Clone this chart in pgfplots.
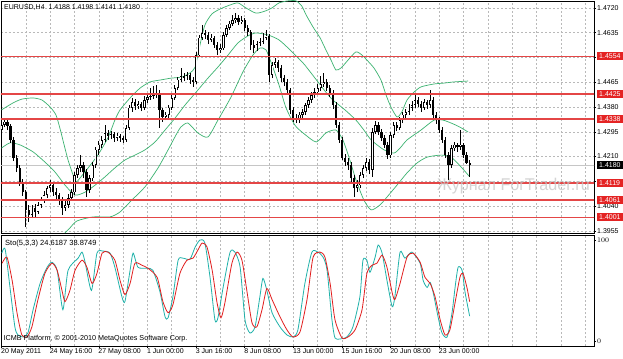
\documentclass[border=0pt]{standalone}
\usepackage{fontspec}
\setmainfont{Liberation Sans}
\usepackage{pgfplots}
\pgfplotsset{compat=1.18}
\usepackage{pgfplotstable}
\definecolor{bandg}{RGB}{60,179,113}
\definecolor{stoc}{RGB}{32,178,170}
\definecolor{stor}{RGB}{225,30,30}
\definecolor{lvl}{RGB}{228,70,70}
\definecolor{labr}{RGB}{228,35,35}
\definecolor{gridc}{RGB}{185,185,185}
\pgfplotstableread{
i o h l c
0 1.4301 1.4335 1.4291 1.4318
1 1.4318 1.4339 1.4311 1.4329
2 1.4329 1.4342 1.4301 1.4315
3 1.4315 1.4322 1.4257 1.4267
4 1.4267 1.4277 1.4195 1.4205
5 1.4205 1.4215 1.4157 1.4171
6 1.4171 1.4181 1.4109 1.4123
7 1.4123 1.4133 1.4075 1.4088
8 1.4088 1.4095 1.3968 1.4027
9 1.4027 1.4044 1.3986 1.4010
10 1.4010 1.4044 1.3999 1.4034
11 1.4034 1.4047 1.3999 1.4020
12 1.4020 1.4054 1.4013 1.4044
13 1.4044 1.4071 1.4034 1.4061
14 1.4061 1.4092 1.4051 1.4078
15 1.4078 1.4109 1.4068 1.4102
16 1.4102 1.4130 1.4088 1.4112
17 1.4112 1.4123 1.4075 1.4088
18 1.4088 1.4102 1.4064 1.4078
19 1.4078 1.4085 1.4044 1.4061
20 1.4061 1.4071 1.4010 1.4034
21 1.4034 1.4061 1.4023 1.4044
22 1.4044 1.4082 1.4034 1.4068
23 1.4068 1.4099 1.4058 1.4088
24 1.4088 1.4157 1.4078 1.4147
25 1.4147 1.4181 1.4136 1.4171
26 1.4171 1.4215 1.4157 1.4181
27 1.4181 1.4191 1.4136 1.4157
28 1.4157 1.4167 1.4071 1.4095
29 1.4095 1.4147 1.4085 1.4136
30 1.4136 1.4191 1.4126 1.4181
31 1.4181 1.4243 1.4171 1.4233
32 1.4233 1.4263 1.4215 1.4250
33 1.4250 1.4281 1.4239 1.4267
34 1.4267 1.4318 1.4260 1.4291
35 1.4291 1.4301 1.4267 1.4281
36 1.4281 1.4298 1.4270 1.4287
37 1.4287 1.4294 1.4260 1.4274
38 1.4274 1.4291 1.4263 1.4281
39 1.4281 1.4287 1.4260 1.4274
40 1.4274 1.4281 1.4257 1.4267
41 1.4267 1.4318 1.4260 1.4308
42 1.4308 1.4387 1.4301 1.4377
43 1.4377 1.4411 1.4363 1.4397
44 1.4397 1.4407 1.4370 1.4383
45 1.4383 1.4401 1.4373 1.4390
46 1.4390 1.4397 1.4366 1.4377
47 1.4377 1.4418 1.4370 1.4404
48 1.4404 1.4428 1.4394 1.4414
49 1.4414 1.4445 1.4404 1.4418
50 1.4418 1.4452 1.4407 1.4421
51 1.4421 1.4455 1.4411 1.4428
52 1.4428 1.4438 1.4308 1.4370
53 1.4370 1.4377 1.4329 1.4346
54 1.4346 1.4363 1.4335 1.4353
55 1.4353 1.4387 1.4342 1.4377
56 1.4377 1.4421 1.4370 1.4411
57 1.4411 1.4455 1.4404 1.4445
58 1.4445 1.4483 1.4438 1.4473
59 1.4473 1.4514 1.4466 1.4486
60 1.4486 1.4497 1.4469 1.4479
61 1.4479 1.4500 1.4473 1.4490
62 1.4490 1.4497 1.4459 1.4473
63 1.4473 1.4483 1.4449 1.4466
64 1.4466 1.4569 1.4459 1.4558
65 1.4558 1.4627 1.4551 1.4617
66 1.4617 1.4661 1.4610 1.4634
67 1.4634 1.4644 1.4613 1.4627
68 1.4627 1.4637 1.4596 1.4610
69 1.4610 1.4630 1.4603 1.4617
70 1.4617 1.4624 1.4582 1.4593
71 1.4593 1.4603 1.4558 1.4576
72 1.4576 1.4596 1.4565 1.4582
73 1.4582 1.4637 1.4576 1.4627
74 1.4627 1.4661 1.4620 1.4651
75 1.4651 1.4675 1.4644 1.4665
76 1.4665 1.4696 1.4658 1.4678
77 1.4678 1.4702 1.4668 1.4685
78 1.4685 1.4696 1.4661 1.4672
79 1.4672 1.4692 1.4665 1.4678
80 1.4678 1.4685 1.4641 1.4651
81 1.4651 1.4661 1.4624 1.4637
82 1.4637 1.4644 1.4576 1.4593
83 1.4593 1.4610 1.4565 1.4582
84 1.4582 1.4606 1.4572 1.4596
85 1.4596 1.4617 1.4589 1.4603
86 1.4603 1.4634 1.4596 1.4617
87 1.4617 1.4644 1.4610 1.4624
88 1.4624 1.4630 1.4466 1.4490
89 1.4490 1.4534 1.4479 1.4524
90 1.4524 1.4548 1.4514 1.4534
91 1.4534 1.4541 1.4500 1.4514
92 1.4514 1.4524 1.4466 1.4479
93 1.4479 1.4490 1.4452 1.4466
94 1.4466 1.4476 1.4428 1.4438
95 1.4438 1.4445 1.4356 1.4370
96 1.4370 1.4380 1.4329 1.4342
97 1.4342 1.4356 1.4325 1.4335
98 1.4335 1.4363 1.4325 1.4353
99 1.4353 1.4373 1.4342 1.4363
100 1.4363 1.4394 1.4353 1.4387
101 1.4387 1.4414 1.4377 1.4404
102 1.4404 1.4431 1.4394 1.4421
103 1.4421 1.4445 1.4411 1.4431
104 1.4431 1.4459 1.4421 1.4445
105 1.4445 1.4486 1.4435 1.4459
106 1.4459 1.4497 1.4449 1.4466
107 1.4466 1.4476 1.4435 1.4445
108 1.4445 1.4455 1.4414 1.4428
109 1.4428 1.4438 1.4373 1.4387
110 1.4387 1.4397 1.4308 1.4318
111 1.4318 1.4329 1.4257 1.4267
112 1.4267 1.4277 1.4198 1.4205
113 1.4205 1.4219 1.4178 1.4191
114 1.4191 1.4205 1.4164 1.4181
115 1.4181 1.4191 1.4123 1.4136
116 1.4136 1.4147 1.4071 1.4102
117 1.4102 1.4130 1.4088 1.4112
118 1.4112 1.4157 1.4102 1.4147
119 1.4147 1.4181 1.4136 1.4171
120 1.4171 1.4205 1.4160 1.4191
121 1.4191 1.4202 1.4150 1.4164
122 1.4164 1.4308 1.4140 1.4294
123 1.4294 1.4332 1.4287 1.4318
124 1.4318 1.4329 1.4284 1.4294
125 1.4294 1.4305 1.4263 1.4274
126 1.4274 1.4284 1.4239 1.4250
127 1.4250 1.4260 1.4202 1.4215
128 1.4215 1.4294 1.4205 1.4284
129 1.4284 1.4329 1.4274 1.4318
130 1.4318 1.4329 1.4298 1.4308
131 1.4308 1.4346 1.4301 1.4335
132 1.4335 1.4363 1.4325 1.4353
133 1.4353 1.4373 1.4342 1.4363
134 1.4363 1.4390 1.4353 1.4377
135 1.4377 1.4401 1.4366 1.4387
136 1.4387 1.4428 1.4377 1.4404
137 1.4404 1.4414 1.4380 1.4390
138 1.4390 1.4401 1.4363 1.4377
139 1.4377 1.4407 1.4370 1.4397
140 1.4397 1.4404 1.4373 1.4387
141 1.4387 1.4438 1.4377 1.4404
142 1.4404 1.4414 1.4342 1.4353
143 1.4353 1.4363 1.4322 1.4335
144 1.4335 1.4346 1.4291 1.4301
145 1.4301 1.4311 1.4257 1.4267
146 1.4267 1.4277 1.4205 1.4215
147 1.4215 1.4226 1.4130 1.4181
148 1.4181 1.4250 1.4171 1.4239
149 1.4239 1.4260 1.4229 1.4250
150 1.4250 1.4257 1.4226 1.4243
151 1.4243 1.4301 1.4233 1.4250
152 1.4250 1.4257 1.4205 1.4215
153 1.4215 1.4226 1.4184 1.4188
154 1.4188 1.4198 1.4141 1.4180
}\candles
\begin{document}
\begin{tikzpicture}
\useasboundingbox (0,0) rectangle (623bp,359bp);
\fill[white] (0,0) rectangle (623bp,359bp);
\begin{axis}[
  at={(1bp,358bp)}, anchor=north west, scale only axis,
  width=593bp, height=232bp,
  xmin=-0.16, xmax=194.9, ymin=1.39478, ymax=1.47436,
  axis line style={black, line width=0.6bp},
  xtick={0,8,...,192}, xticklabels={}, xtick style={draw=none},
  ytick={1.3955,1.4040,1.4125,1.4210,1.4295,1.4380,1.4465,1.4550,1.4635,1.4720},
  yticklabels={1.3955,1.4040,{},1.4210,1.4295,1.4380,1.4465,{},1.4635,1.4720},
  ytick pos=right, yticklabel pos=right, tick align=outside,
  major tick length=2bp, ytick style={black, line width=0.5bp},
  yticklabel style={font=\fontsize{7bp}{8bp}\selectfont, anchor=west, inner sep=0pt, xshift=1bp},
  grid=major, major grid style={gridc, line width=0.5bp, dash pattern=on 2bp off 2bp},
]
% bid line
\addplot[forget plot, color=gray!45, line width=0.8bp] coordinates {(-1,1.4180) (196,1.4180)};
% bollinger bands
\addplot[forget plot, bandg, line width=0.7bp, smooth, tension=0.4] coordinates {
(0,1.4370)(3.8,1.4394)(6.7,1.4407)(10.4,1.4411)(13.3,1.4404)(16.0,1.4380)(17.9,1.4353)(19.2,1.4308)
(20.6,1.4250)(21.9,1.4198)(23.2,1.4157)(24.5,1.4123)(25.8,1.4136)(28.5,1.4171)(31.7,1.4215)(35.0,1.4274)
(37.3,1.4335)(39.0,1.4370)(42.3,1.4411)(45.6,1.4445)(48.9,1.4466)(52.5,1.4473)(55.8,1.4479)(59.4,1.4483)
(62.0,1.4497)(63.7,1.4517)(65.3,1.4593)(66.9,1.4661)(69.2,1.4699)(71.9,1.4716)(75.2,1.4730)(77.8,1.4737)
(80.4,1.4720)(83.7,1.4702)(86.7,1.4709)(89.0,1.4720)(91.3,1.4737)(94.2,1.4744)(96.9,1.4744)(98.8,1.4726)
(100.2,1.4696)(102.5,1.4654)(104.8,1.4617)(106.7,1.4576)(108.4,1.4541)(110.0,1.4507)(111.7,1.4514)(114.0,1.4541)
(116.6,1.4569)(118.6,1.4558)(120.2,1.4541)(122.5,1.4514)(124.8,1.4473)(126.5,1.4421)(128.1,1.4380)(130.1,1.4346)
(131.7,1.4363)(133.4,1.4404)(135.7,1.4431)(138.0,1.4449)(142.3,1.4459)(145.6,1.4462)(148.8,1.4466)(153.5,1.4469)};
\addplot[forget plot, bandg, line width=0.7bp, smooth, tension=0.4] coordinates {
(0,1.4239)(2.8,1.4257)(6.1,1.4250)(10.4,1.4226)(14.3,1.4191)(17.6,1.4157)(20.9,1.4112)(24.2,1.4078)
(27.5,1.4088)(30.8,1.4112)(34.0,1.4140)(37.3,1.4171)(40.6,1.4198)(43.9,1.4215)(47.2,1.4233)(50.5,1.4260)
(53.8,1.4301)(57.1,1.4342)(60.4,1.4387)(64.6,1.4438)(67.9,1.4479)(71.2,1.4517)(74.5,1.4558)(77.8,1.4600)
(81.1,1.4624)(83.7,1.4634)(87.7,1.4627)(91.3,1.4610)(94.9,1.4576)(99.2,1.4531)(101.8,1.4497)(104.4,1.4462)
(106.7,1.4431)(109.0,1.4404)(113.0,1.4370)(116.6,1.4335)(119.2,1.4301)(121.6,1.4267)(125.8,1.4233)(129.1,1.4222)
(131.1,1.4239)(133.4,1.4267)(138.0,1.4301)(142.3,1.4335)(145.2,1.4335)(147.9,1.4325)(150.8,1.4311)(153.5,1.4294)};
\addplot[forget plot, bandg, line width=0.7bp, smooth, tension=0.4] coordinates {
(19.9,1.3924)(20.9,1.3948)(22.5,1.3965)(24.8,1.3989)(30.1,1.4003)(35.7,1.4003)(39.0,1.4020)(42.9,1.4061)
(47.2,1.4106)(51.5,1.4171)(54.8,1.4233)(57.4,1.4284)(59.0,1.4311)(61.3,1.4325)(64.6,1.4291)(67.9,1.4277)
(71.2,1.4335)(75.5,1.4414)(79.4,1.4500)(82.7,1.4558)(85.0,1.4582)(87.0,1.4576)(89.0,1.4524)(91.3,1.4455)
(93.6,1.4377)(96.5,1.4318)(99.2,1.4291)(103.5,1.4260)(106.7,1.4291)(110.0,1.4301)(112.3,1.4267)(114.6,1.4198)
(116.6,1.4130)(119.2,1.4061)(121.6,1.4027)(124.5,1.4044)(126.8,1.4071)(130.1,1.4112)(133.4,1.4154)(136.7,1.4188)
(140.0,1.4208)(144.6,1.4215)(147.9,1.4208)(151.2,1.4174)(153.8,1.4143)};
% wicks
\addplot[forget plot, draw=none, mark=none, error bars/.cd, y dir=plus, y explicit, error mark=none,
  error bar style={draw=black, line width=0.7bp}]
  table[x=i, y=l, y error plus expr=\thisrow{h}-\thisrow{l}] {\candles};
% bodies
\addplot[forget plot, draw=none, mark=none, error bars/.cd, y dir=plus, y explicit, error mark=none,
  error bar style={draw=black, line width=2.3bp}]
  table[x=i, y expr={min(\thisrow{o},\thisrow{c})}, y error plus expr={max(abs(\thisrow{c}-\thisrow{o}),0.00007)}] {\candles};
% bull interiors
\addplot[forget plot, draw=none, mark=none, error bars/.cd, y dir=plus, y explicit, error mark=none,
  error bar style={draw=white, line width=1.1bp}]
  table[x=i, y expr={\thisrow{o}+0.0002}, y error plus expr={ifthenelse(\thisrow{c}>\thisrow{o}+0.0005, \thisrow{c}-\thisrow{o}-0.0004, 0)}] {\candles};
% levels
\addplot[forget plot, lvl, line width=1.5bp] coordinates {(-1,1.4554) (196,1.4554)};
\addplot[forget plot, lvl, line width=1.5bp] coordinates {(-1,1.4425) (196,1.4425)};
\addplot[forget plot, lvl, line width=1.5bp] coordinates {(-1,1.4338) (196,1.4338)};
\addplot[forget plot, lvl, line width=1.5bp] coordinates {(-1,1.4119) (196,1.4119)};
\addplot[forget plot, lvl, line width=1.5bp] coordinates {(-1,1.4061) (196,1.4061)};
\addplot[forget plot, lvl, line width=1.5bp] coordinates {(-1,1.4001) (196,1.4001)};
\coordinate (L1) at (axis cs:194.9,1.4554);
\coordinate (L2) at (axis cs:194.9,1.4425);
\coordinate (L3) at (axis cs:194.9,1.4338);
\coordinate (L4) at (axis cs:194.9,1.4119);
\coordinate (L5) at (axis cs:194.9,1.4061);
\coordinate (L6) at (axis cs:194.9,1.4001);
\coordinate (LB) at (axis cs:194.9,1.4180);
\end{axis}
\begin{axis}[
  at={(1bp,124bp)}, anchor=north west, scale only axis,
  width=593bp, height=111bp,
  xmin=-0.16, xmax=194.9, ymin=-4.95, ymax=104.95,
  axis line style={black, line width=0.6bp},
  xtick={0,16,...,144},
  xticklabels={20 May 2011,24 May 16:00,27 May 08:00,1 Jun 00:00,3 Jun 16:00,8 Jun 08:00,13 Jun 00:00,15 Jun 16:00,20 Jun 08:00,23 Jun 00:00},
  minor xtick={8,24,40,56,72,88,104,120,136,152,160,168,176,184,192},
  xtick pos=bottom, ytick pos=right, yticklabel pos=right, tick align=outside,
  major tick length=2bp, minor tick length=0pt,
  tick style={black, line width=0.5bp},
  xticklabel style={font=\fontsize{7bp}{8bp}\selectfont, anchor=north west, inner sep=0pt, xshift=-0.5bp, yshift=-0.5bp},
  ytick={0,100},
  yticklabel style={font=\fontsize{7bp}{8bp}\selectfont, anchor=west, inner sep=0pt, xshift=1bp},
  xmajorgrids, xminorgrids,
  major grid style={gridc, line width=0.5bp, dash pattern=on 2bp off 2bp},
  minor grid style={gridc, line width=0.5bp, dash pattern=on 2bp off 2bp},
]
\addplot[forget plot, stoc, line width=0.8bp, smooth, tension=0.4] coordinates {
(0.1,87)(1.2,91)(2.8,53)(4.4,14)(5.4,6)(7.1,4)(8.7,8)(10.4,31)(12.7,57)(15.0,73)(16.6,78)(18.3,70)
(20.2,31)(21.9,70)(25.2,82)(26.5,88)(27.5,78)(29.6,50)(31.4,87)(33.4,89)(35.7,87)(37.3,73)(39.6,44)
(40.6,39)(42.3,70)(43.3,87)(44.9,73)(47.9,72)(49.8,70)(52.1,49)(53.8,24)(54.8,23)(56.4,44)(58.1,80)
(59.7,82)(62.0,81)(63.7,93)(65.3,100)(66.9,97)(68.6,63)(70.2,21)(71.2,23)(72.9,53)(75.2,88)(76.8,88)
(78.5,73)(80.1,21)(81.7,8)(83.4,14)(85.0,44)(86.0,62)(87.3,50)(89.0,28)(91.6,14)(93.9,6)(95.9,4)
(97.5,11)(99.8,57)(102.1,88)(104.1,88)(105.8,83)(107.1,70)(108.7,21)(109.7,3)(111.3,2)(113.6,4)
(115.6,14)(117.9,44)(118.9,80)(120.2,80)(121.2,68)(122.9,83)(123.9,95)(125.2,87)(126.8,60)(128.5,34)
(129.4,44)(131.1,88)(132.7,82)(135.0,88)(137.7,77)(138.7,60)(140.0,53)(141.0,58)(142.0,48)(143.6,24)
(144.9,8)(146.6,4)(148.2,28)(149.2,53)(150.2,73)(151.5,70)(152.5,48)(154,24.6)};
\addplot[forget plot, stor, line width=0.8bp, smooth, tension=0.4] coordinates {
(0.2,77)(1.8,83)(3.5,60)(5.1,28)(6.7,6)(8.4,4)(10.0,14)(12.0,41)(14.3,67)(16.6,77)(18.3,70)(19.9,50)
(20.9,39)(22.5,50)(24.2,70)(26.5,80)(28.1,73)(29.8,57)(31.4,67)(33.1,87)(35.0,88)(37.3,80)(39.0,60)
(40.6,46)(42.3,57)(43.9,77)(46.2,75)(48.2,72)(51.2,63)(53.1,39)(54.8,28)(56.4,36)(58.7,67)(61.0,80)
(63.0,82)(64.6,90)(66.0,97)(67.6,93)(69.3,70)(70.9,38)(72.2,23)(73.5,38)(75.8,77)(77.5,88)(79.1,80)
(80.8,48)(82.4,18)(84.0,14)(85.7,31)(87.3,52)(89.0,41)(91.6,24)(93.9,11)(95.9,4)(98.2,9)(100.5,41)
(102.5,83)(104.8,88)(106.4,83)(108.1,57)(109.7,21)(112.0,3)(114.0,4)(116.3,11)(118.6,31)(120.2,67)
(121.9,75)(123.5,77)(125.2,85)(126.8,73)(128.5,48)(129.4,41)(131.1,57)(133.4,83)(135.4,87)(137.7,78)
(139.3,63)(141.0,57)(142.6,44)(144.3,21)(145.9,6)(147.5,11)(149.2,38)(150.8,63)(151.8,67)(153.1,53)(154,38.9)};
\end{axis}
% price labels
\foreach \c/\t in {L1/1.4554,L2/1.4425,L3/1.4338,L4/1.4119,L5/1.4061,L6/1.4001}{
  \node[fill=labr, text=white, anchor=west, inner xsep=2.5bp, inner ysep=0pt, minimum height=8bp,
    font=\fontsize{7bp}{8bp}\selectfont] at ([xshift=2.5bp]\c) {\t};
}
\node[fill=black, text=white, anchor=west, inner xsep=2.5bp, inner ysep=0pt, minimum height=8bp,
  font=\fontsize{7bp}{8bp}\selectfont] at ([xshift=2.5bp]LB) {1.4180};
% texts
\node[anchor=west, inner sep=0pt, font=\fontsize{7bp}{8bp}\selectfont] at (4bp,351.3bp) {EURUSD,H4\ \ 1.4188 1.4198 1.4141 1.4180};
\node[anchor=west, inner sep=0pt, font=\fontsize{7.5bp}{8bp}\selectfont] at (5bp,115.7bp) {Sto(5,3,3) 24.6187 38.8749};
\node[anchor=west, inner sep=0pt, font=\fontsize{7.2bp}{8bp}\selectfont] at (3.5bp,20bp) {ICMB Platform, © 2001-2010 MetaQuotes Software Corp.};
\node[anchor=base west, inner sep=0pt, xscale=0.95, transform shape, font=\fontsize{17bp}{17bp}\selectfont, text=gray!45, opacity=0.75] at (437bp,168bp) {Журнал ForTrader.ru};
\end{tikzpicture}
\end{document}
